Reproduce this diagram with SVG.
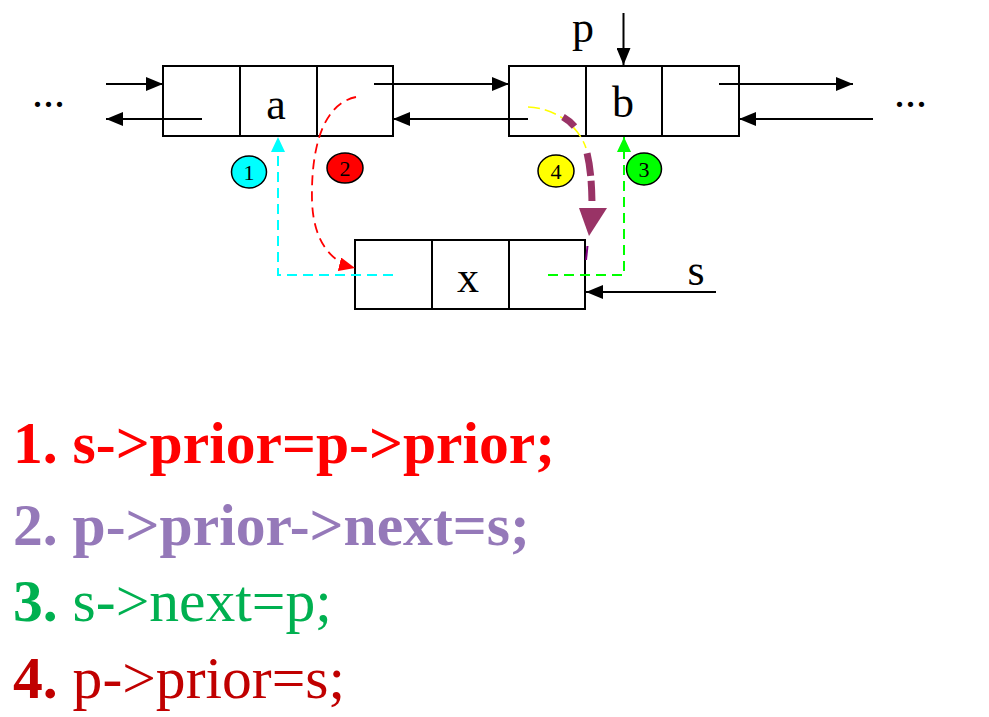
<svg xmlns="http://www.w3.org/2000/svg" width="989" height="717" viewBox="0 0 989 717">
<style>
.box{fill:none;stroke:#000;stroke-width:2}
.lbl{font-family:"Liberation Serif","Times New Roman",serif;font-size:44px;fill:#000}
.num{font-family:"Liberation Serif","Times New Roman",serif;font-size:22px;fill:#000;text-anchor:middle}
.ln{stroke:#000;stroke-width:2;fill:none;marker-end:url(#ab)}
.code{font-family:"Liberation Serif","Times New Roman",serif;font-size:59.6px}
.b{font-weight:bold}
.circ{stroke:#000;stroke-width:1.5}
</style>
<defs>
<marker id="ab" markerUnits="userSpaceOnUse" markerWidth="17" markerHeight="14" refX="17" refY="7" orient="auto"><path d="M0,0 L17,7 L0,14 z" fill="#000"/></marker>
<marker id="ac" markerUnits="userSpaceOnUse" markerWidth="15" markerHeight="14" refX="15" refY="7" orient="auto"><path d="M0,0 L15,7 L0,14 z" fill="#00FFFF"/></marker>
<marker id="ag" markerUnits="userSpaceOnUse" markerWidth="15" markerHeight="14" refX="15" refY="7" orient="auto"><path d="M0,0 L15,7 L0,14 z" fill="#00FF00"/></marker>
<marker id="ar" markerUnits="userSpaceOnUse" markerWidth="16" markerHeight="14" refX="16" refY="7" orient="auto"><path d="M0,0 L16,7 L0,14 z" fill="#FF0000"/></marker>
</defs>
<rect width="989" height="717" fill="#fff"/>

<g id="node-a">
<rect class="box" x="163" y="66" width="230" height="70"/>
<line class="box" x1="240" y1="66" x2="240" y2="136"/>
<line class="box" x1="317" y1="66" x2="317" y2="136"/>
<text class="lbl" x="276" y="119" text-anchor="middle">a</text>
</g>
<g id="node-b">
<rect class="box" x="509" y="66" width="230" height="70"/>
<line class="box" x1="586" y1="66" x2="586" y2="136"/>
<line class="box" x1="662" y1="66" x2="662" y2="136"/>
<text class="lbl" x="623" y="117" text-anchor="middle">b</text>
</g>
<g id="node-x">
<rect class="box" x="355" y="240" width="230" height="69"/>
<line class="box" x1="432" y1="240" x2="432" y2="309"/>
<line class="box" x1="509" y1="240" x2="509" y2="309"/>
<text class="lbl" x="468" y="292" text-anchor="middle">x</text>
</g>
<g id="labels">
<text class="lbl" x="583" y="42" text-anchor="middle">p</text>
<text class="lbl" x="696" y="285" text-anchor="middle">s</text>
<text class="lbl" x="32" y="107">...</text>
<text class="lbl" x="894" y="107">...</text>
</g>

<g id="connectors">
<line class="ln" x1="106" y1="84" x2="163" y2="84"/>
<line class="ln" x1="202" y1="119" x2="106" y2="119"/>
<line class="ln" x1="374" y1="84" x2="509" y2="84"/>
<line class="ln" x1="528" y1="119" x2="393" y2="119"/>
<line class="ln" x1="719" y1="84" x2="853" y2="84"/>
<line class="ln" x1="873" y1="119" x2="739" y2="119"/>
<line class="ln" x1="623.5" y1="13" x2="623.5" y2="65"/>
<line class="ln" x1="716" y1="292" x2="586" y2="292"/>
<path d="M393,275 H278 V137" fill="none" stroke="#00FFFF" stroke-width="2" stroke-dasharray="10,6" marker-end="url(#ac)"/>
<path d="M548,275 H624 V137" fill="none" stroke="#00FF00" stroke-width="2" stroke-dasharray="10,6" marker-end="url(#ag)"/>
<path d="M356,97 C322,104 311,150 312,200 C313,240 330,262 355,268" fill="none" stroke="#FF0000" stroke-width="1.8" stroke-dasharray="10,6" marker-end="url(#ar)"/>
<path d="M528,107 C555,108 578,125 586,148" fill="none" stroke="#FFFF00" stroke-width="1.6" stroke-dasharray="12,5"/>
<path d="M563,117 C582,128 592,150 592,208" fill="none" stroke="#993366" stroke-width="7" stroke-dasharray="15,30,23,5,20,50"/>
<polygon points="579,208 607,208 589,236" fill="#993366"/>
<line x1="587.5" y1="246" x2="586" y2="260" stroke="#800080" stroke-width="2"/>
</g>

<g id="step1"><ellipse class="circ" cx="249" cy="172" rx="17.5" ry="16" fill="#00FFFF"/><text class="num" x="249" y="180">1</text></g>
<g id="step2"><ellipse class="circ" cx="345" cy="168" rx="18" ry="15" fill="#FF0000"/><text class="num" x="345" y="176">2</text></g>
<g id="step4"><ellipse class="circ" cx="556" cy="171" rx="18" ry="16" fill="#FFFF00"/><text class="num" x="556" y="179">4</text></g>
<g id="step3"><ellipse class="circ" cx="644" cy="169" rx="17.5" ry="16" fill="#00FF00"/><text class="num" x="644" y="177">3</text></g>

<g id="code">
<text class="code b" x="13" y="463" fill="#FF0000">1. s-&gt;prior=p-&gt;prior;</text>
<text class="code b" x="13" y="545" fill="#9579B9">2. p-&gt;prior-&gt;next=s;</text>
<text class="code" x="13" y="621" fill="#00B050"><tspan class="b">3. </tspan>s-&gt;next=p;</text>
<text class="code" x="13" y="698" fill="#C00000"><tspan class="b">4. </tspan>p-&gt;prior=s;</text>
</g>
</svg>
